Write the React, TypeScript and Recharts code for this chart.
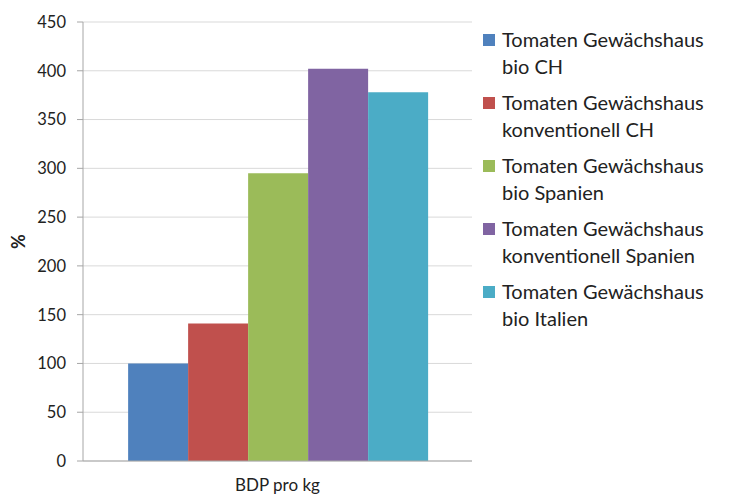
import * as React from 'react';
import { BarChart, Bar, XAxis, YAxis, CartesianGrid, Label } from 'recharts';

const categories = ['BDP pro kg'];
const seriesNames = [
	'Tomaten Gewächshaus bio CH',
	'Tomaten Gewächshaus konventionell CH',
	'Tomaten Gewächshaus bio Spanien',
	'Tomaten Gewächshaus konventionell Spanien',
	'Tomaten Gewächshaus bio Italien',
];
const seriesValues = [100, 141, 295, 402, 378];
const seriesColors = ['#4F81BD', '#C0504D', '#9BBB59', '#8064A2', '#4BACC6'];
const yTicks = [0, 50, 100, 150, 200, 250, 300, 350, 400, 450];

const data = categories.map(category => {
	const row: Record<string, string | number> = { category };
	seriesValues.forEach((v, i) => {
		row['s' + i] = v;
	});
	return row;
});

const font = 'Lato, "Open Sans", sans-serif';

// legend drawn as html next to the chart, in series order
const ChartLegend = () => (
	<div
		style={{
			position: 'absolute',
			left: 475,
			top: 18,
			fontFamily: font,
			fontSize: 20,
			color: '#222',
			lineHeight: '27px',
		}}
	>
		{seriesNames.map((name, i) => {
			const parts = name.split('Gewächshaus ');
			return (
				<div key={name} style={{ display: 'flex', alignItems: 'flex-start', marginBottom: 9 }}>
					<div style={{ width: 12, height: 12, background: seriesColors[i], marginTop: 8, marginRight: 7, flexShrink: 0 }} />
					<div>
						<div>{parts[0] + 'Gewächshaus'}</div>
						<div>{parts[1]}</div>
					</div>
				</div>
			);
		})}
	</div>
);

export default function App() {
	return (
		<div style={{ position: 'relative', width: 720, height: 489 }}>
			<BarChart
				width={720}
				height={489}
				data={data}
				margin={{ top: 14, right: 256, left: 0, bottom: 0 }}
				barCategoryGap="11.6%"
				barGap={0}
			>
				<CartesianGrid vertical={false} stroke="#d9d9d9" />
				<XAxis
					dataKey="category"
					height={36}
					tickLine={false}
					tickSize={6}
					tickMargin={12}
					stroke="#a6a6a6"
					tick={{ fill: '#222', fontFamily: font, fontSize: 17 }}
				/>
				<YAxis
					width={75}
					domain={[0, 450]}
					ticks={yTicks}
					interval={0}
					tickSize={6}
					tickMargin={11}
					stroke="#a6a6a6"
					tick={{ fill: '#222', fontFamily: font, fontSize: 16.5 }}
				>
					<Label
						content={(p: any) => {
							const vb = p.viewBox || {};
							const cy = (vb.y || 0) + (vb.height || 0) / 2;
							return (
								<text
									x={10}
									y={cy}
									transform={`rotate(-90 10 ${cy})`}
									textAnchor="middle"
									dominantBaseline="central"
									fontFamily={font}
									fontWeight="bold"
									fontSize={18}
									fill="#222"
								>
									%
								</text>
							);
						}}
					/>
				</YAxis>
				{seriesNames.map((name, i) => (
					<Bar key={name} dataKey={'s' + i} name={name} fill={seriesColors[i]} isAnimationActive={false} />
				))}
			</BarChart>
			<ChartLegend />
		</div>
	);
}
